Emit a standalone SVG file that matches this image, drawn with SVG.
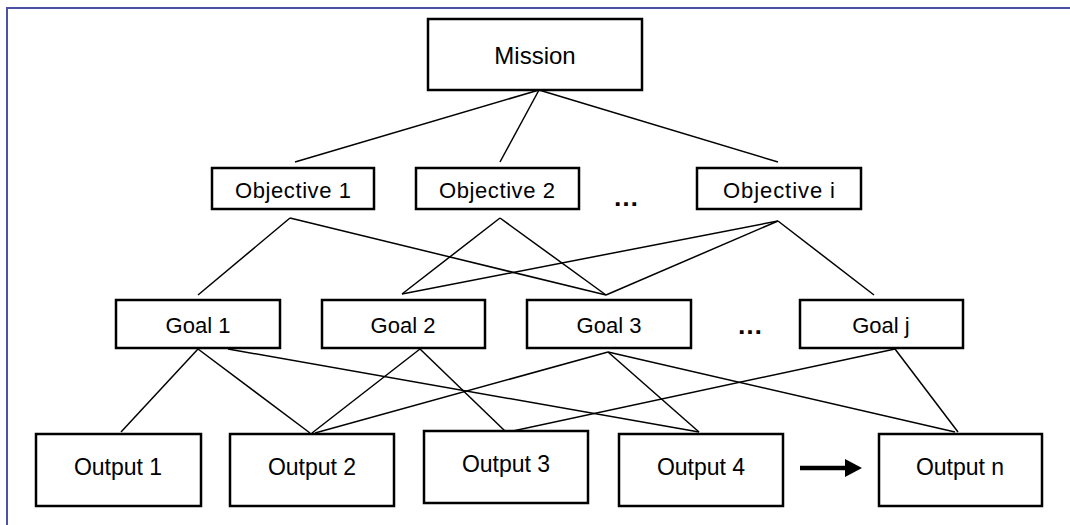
<svg xmlns="http://www.w3.org/2000/svg" width="1070" height="525" viewBox="0 0 1070 525">
<style>
.box{fill:#fff;stroke:#000;stroke-width:2.5}
.t{font-family:"Liberation Sans",Arial,sans-serif;font-size:22px;fill:#000;text-anchor:middle;dominant-baseline:central}
.c line{stroke:#000;stroke-width:1.5}
.frame{stroke:#4B52A6;stroke-width:2;fill:none}
.dots{font-family:"Liberation Sans",Arial,sans-serif;font-size:26px;font-weight:bold;fill:#000;text-anchor:middle}
</style>
<rect width="1070" height="525" fill="#fff"/>
<path class="frame" d="M7,525 V8 H1070"/>
<g class="c">
<line x1="539" y1="90" x2="295" y2="162"/>
<line x1="539" y1="90" x2="500" y2="162"/>
<line x1="539" y1="90" x2="778" y2="162"/>
<line x1="290" y1="218" x2="198" y2="295"/>
<line x1="290" y1="218" x2="606" y2="295"/>
<line x1="500" y1="218" x2="402" y2="294"/>
<line x1="500" y1="218" x2="606" y2="295"/>
<line x1="778" y1="221" x2="402" y2="294"/>
<line x1="778" y1="221" x2="606" y2="295"/>
<line x1="778" y1="221" x2="874" y2="295"/>
<line x1="198" y1="349" x2="121" y2="432"/>
<line x1="198" y1="349" x2="310" y2="433"/>
<line x1="228" y1="349" x2="699" y2="432"/>
<line x1="420" y1="349" x2="312" y2="433"/>
<line x1="420" y1="349" x2="506" y2="432"/>
<line x1="608" y1="352" x2="315" y2="433"/>
<line x1="608" y1="352" x2="699" y2="432"/>
<line x1="608" y1="352" x2="955" y2="432"/>
<line x1="895" y1="349" x2="508" y2="432"/>
<line x1="895" y1="349" x2="958" y2="432"/>
<line x1="800" y1="468" x2="848" y2="468" style="stroke-width:4.5"/>
<polygon points="845,459 862,468 845,477" fill="#000"/>
</g>
<g id="mission"><rect class="box" x="428" y="19" width="214" height="71"/><text class="t" x="535" y="55" style="font-size:24px">Mission</text></g>
<g id="obj1"><rect class="box" x="212" y="168" width="162" height="41"/><text class="t" x="293" y="190" textLength="116">Objective 1</text></g>
<g id="obj2"><rect class="box" x="416" y="168" width="163" height="41"/><text class="t" x="497" y="190" textLength="116">Objective 2</text></g>
<text class="dots" x="626" y="206">…</text>
<g id="obji"><rect class="box" x="697" y="168" width="164" height="41"/><text class="t" x="779" y="190" textLength="112">Objective i</text></g>
<g id="goal1"><rect class="box" x="116" y="300" width="164" height="48"/><text class="t" x="198" y="325">Goal 1</text></g>
<g id="goal2"><rect class="box" x="322" y="300" width="163" height="48"/><text class="t" x="403" y="325">Goal 2</text></g>
<g id="goal3"><rect class="box" x="527" y="300" width="164" height="48"/><text class="t" x="609" y="325">Goal 3</text></g>
<text class="dots" x="750" y="334">…</text>
<g id="goalj"><rect class="box" x="800" y="300" width="163" height="48"/><text class="t" x="881" y="325">Goal j</text></g>
<g id="out1"><rect class="box" x="36" y="434" width="165" height="72"/><text class="t" x="118" y="467" style="font-size:23px">Output 1</text></g>
<g id="out2"><rect class="box" x="230" y="434" width="164" height="72"/><text class="t" x="312" y="467" style="font-size:23px">Output 2</text></g>
<g id="out3"><rect class="box" x="424" y="431" width="164" height="72"/><text class="t" x="506" y="464" style="font-size:23px">Output 3</text></g>
<g id="out4"><rect class="box" x="619" y="434" width="164" height="72"/><text class="t" x="701" y="467" style="font-size:23px">Output 4</text></g>
<g id="outn"><rect class="box" x="879" y="434" width="163" height="72"/><text class="t" x="960" y="467" style="font-size:23px">Output n</text></g>
</svg>
